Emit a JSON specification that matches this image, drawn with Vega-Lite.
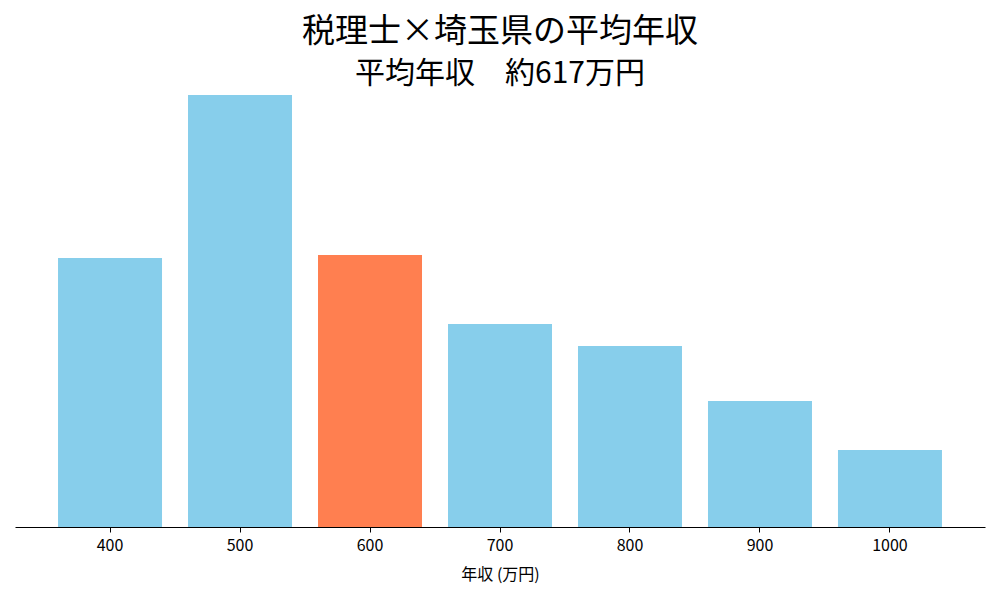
{
  "$schema": "https://vega.github.io/schema/vega-lite/v6.json",
  "autosize": "none",
  "width": 970,
  "height": 432,
  "padding": {"left": 15, "top": 95, "right": 15, "bottom": 73},
  "background": "white",
  "config": {
    "font": "Noto Sans CJK JP",
    "view": {"stroke": null}
  },
  "title": {
    "text": "税理士×埼玉県の平均年収",
    "subtitle": "平均年収　約617万円",
    "anchor": "middle",
    "fontSize": 33,
    "fontWeight": "normal",
    "subtitleFontSize": 30,
    "subtitleColor": "black",
    "color": "black",
    "subtitlePadding": 10,
    "offset": 6
  },
  "data": {
    "values": [
      {"income": 400, "value": 269, "highlight": "no"},
      {"income": 500, "value": 432, "highlight": "no"},
      {"income": 600, "value": 272, "highlight": "yes"},
      {"income": 700, "value": 203, "highlight": "no"},
      {"income": 800, "value": 181, "highlight": "no"},
      {"income": 900, "value": 126, "highlight": "no"},
      {"income": 1000, "value": 77, "highlight": "no"}
    ]
  },
  "mark": "bar",
  "encoding": {
    "x": {
      "field": "income",
      "type": "ordinal",
      "title": "年収 (万円)",
      "scale": {"paddingInner": 0.2, "paddingOuter": 0.331},
      "axis": {
        "labelAngle": 0,
        "labelFontSize": 16,
        "labelColor": "black",
        "labelPadding": 5,
        "titleFontSize": 16,
        "titleFontWeight": "normal",
        "titleColor": "black",
        "titlePadding": 13,
        "domainColor": "black",
        "tickColor": "black",
        "tickSize": 5,
        "grid": false
      }
    },
    "y": {
      "field": "value",
      "type": "quantitative",
      "scale": {"domain": [0, 432]},
      "axis": null
    },
    "color": {
      "field": "highlight",
      "type": "nominal",
      "scale": {"domain": ["no", "yes"], "range": ["#87CEEB", "#FF7F50"]},
      "legend": null
    }
  }
}
